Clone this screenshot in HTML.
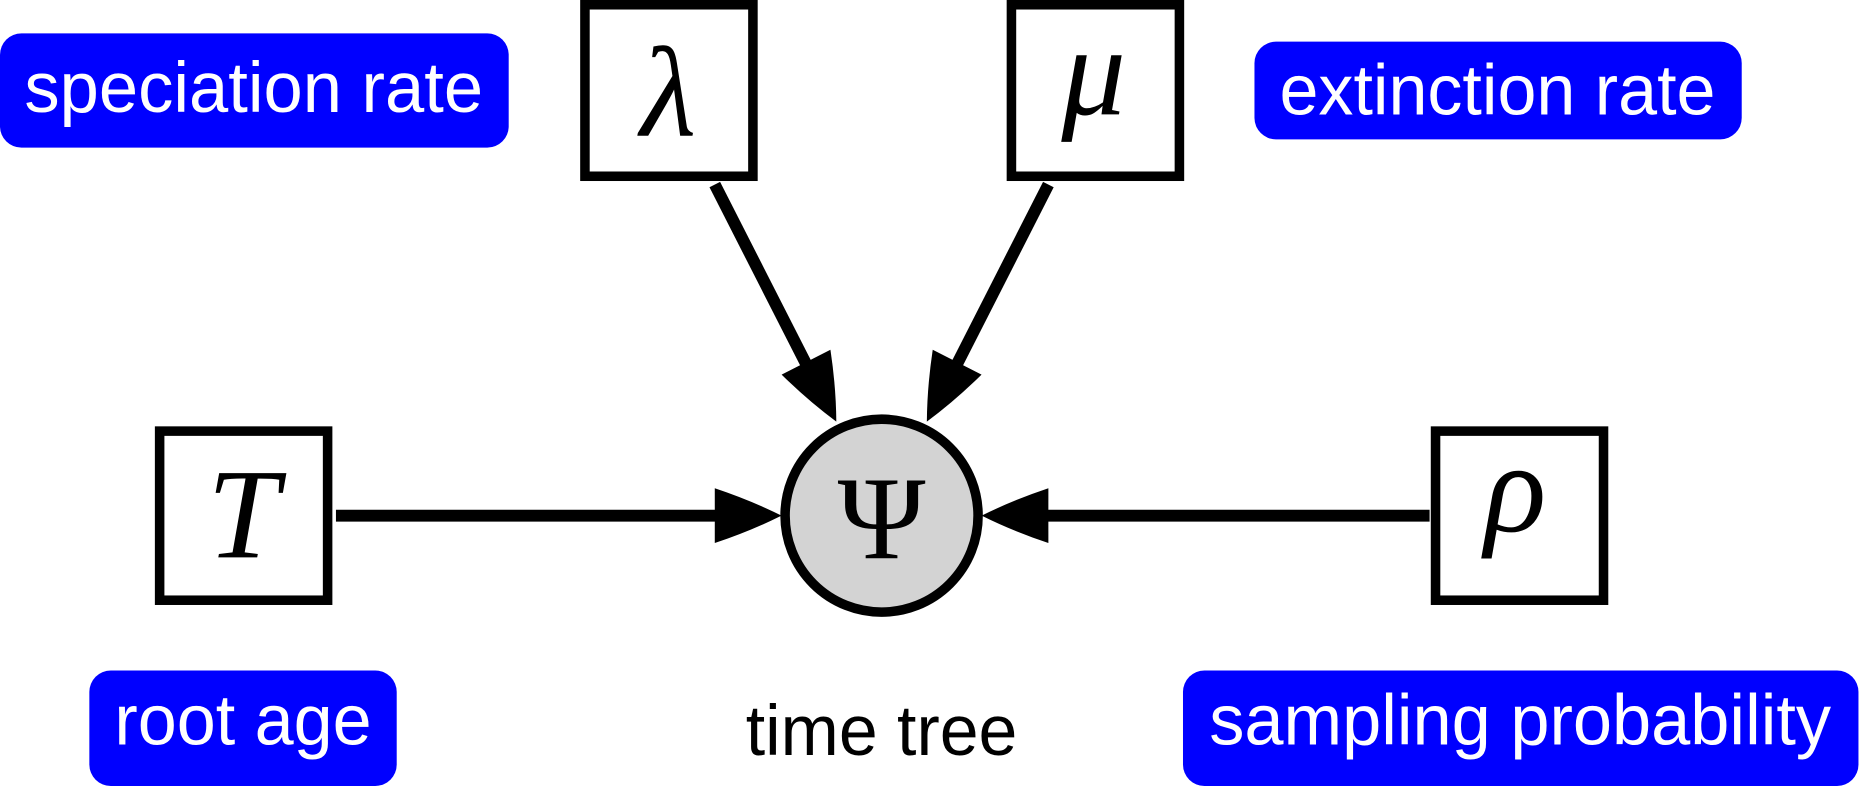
<!DOCTYPE html>
<html><head><meta charset="utf-8"><style>
html,body{margin:0;padding:0;background:#fff;}
svg{display:block;}
.lbl{font-family:"Liberation Sans",sans-serif;font-size:60px;fill:#fff;text-anchor:middle;}
.math{font-family:"Liberation Serif",serif;font-style:italic;font-size:108px;fill:#000;text-anchor:middle;}
.box{fill:#fff;stroke:#000;stroke-width:8;}
.badge{fill:#0000ff;}
</style></head><body>
<svg width="1868" height="786" viewBox="0 0 1568 660" preserveAspectRatio="none">
  <g>
    <rect class="badge" x="0" y="28" width="427" height="96" rx="18"/>
    <text class="lbl" x="213" y="94" textLength="385" lengthAdjust="spacingAndGlyphs">speciation rate</text>
  </g>
  <g>
    <rect class="badge" x="1053" y="35" width="409" height="82" rx="18"/>
    <text class="lbl" x="1257" y="96" textLength="366" lengthAdjust="spacingAndGlyphs">extinction rate</text>
  </g>
  <g>
    <rect class="badge" x="75" y="563" width="258" height="97" rx="18"/>
    <text class="lbl" x="204" y="625" textLength="216" lengthAdjust="spacingAndGlyphs">root age</text>
  </g>
  <g>
    <rect class="badge" x="993" y="563" width="567" height="97" rx="18"/>
    <text class="lbl" x="1276" y="625" textLength="522" lengthAdjust="spacingAndGlyphs">sampling probability</text>
  </g>
  <text x="740" y="634" textLength="228" lengthAdjust="spacingAndGlyphs" style="font-family:'Liberation Sans',sans-serif;font-size:60px;text-anchor:middle;fill:#000">time tree</text>

  <g stroke="#000" stroke-width="10" fill="none">
    <line x1="600" y1="155" x2="686" y2="324"/>
    <line x1="880" y1="155" x2="794" y2="324"/>
    <line x1="282" y1="433" x2="605" y2="433"/>
    <line x1="1200" y1="433" x2="875" y2="433"/>
  </g>
  <g fill="#000">
    <path transform="translate(702,354) rotate(63)" d="M0,0 Q-26,-13 -56,-23 L-56,23 Q-26,13 0,0 Z"/>
    <path transform="translate(778,354) rotate(117)" d="M0,0 Q-26,-13 -56,-23 L-56,23 Q-26,13 0,0 Z"/>
    <path transform="translate(656,433)" d="M0,0 Q-26,-13 -56,-23 L-56,23 Q-26,13 0,0 Z"/>
    <path transform="translate(824,433) rotate(180)" d="M0,0 Q-26,-13 -56,-23 L-56,23 Q-26,13 0,0 Z"/>
  </g>

  <g>
    <rect class="box" x="491" y="4" width="141" height="144"/>
    <text class="math" x="561" y="114">λ</text>
  </g>
  <g>
    <rect class="box" x="849" y="4" width="141" height="144"/>
    <text class="math" x="918" y="96">μ</text>
  </g>
  <g>
    <rect class="box" x="134" y="362" width="141" height="142"/>
    <text class="math" x="204" y="468">T</text>
  </g>
  <g>
    <rect class="box" x="1205" y="362" width="141" height="142"/>
    <text class="math" x="1272" y="446">ρ</text>
  </g>
  <g>
    <circle cx="740" cy="433" r="81" fill="#d3d3d3" stroke="#000" stroke-width="8"/>
    <text x="740" y="469" style="font-family:'Liberation Serif',serif;font-size:100px;text-anchor:middle;fill:#000">Ψ</text>
  </g>
</svg>
</body></html>
